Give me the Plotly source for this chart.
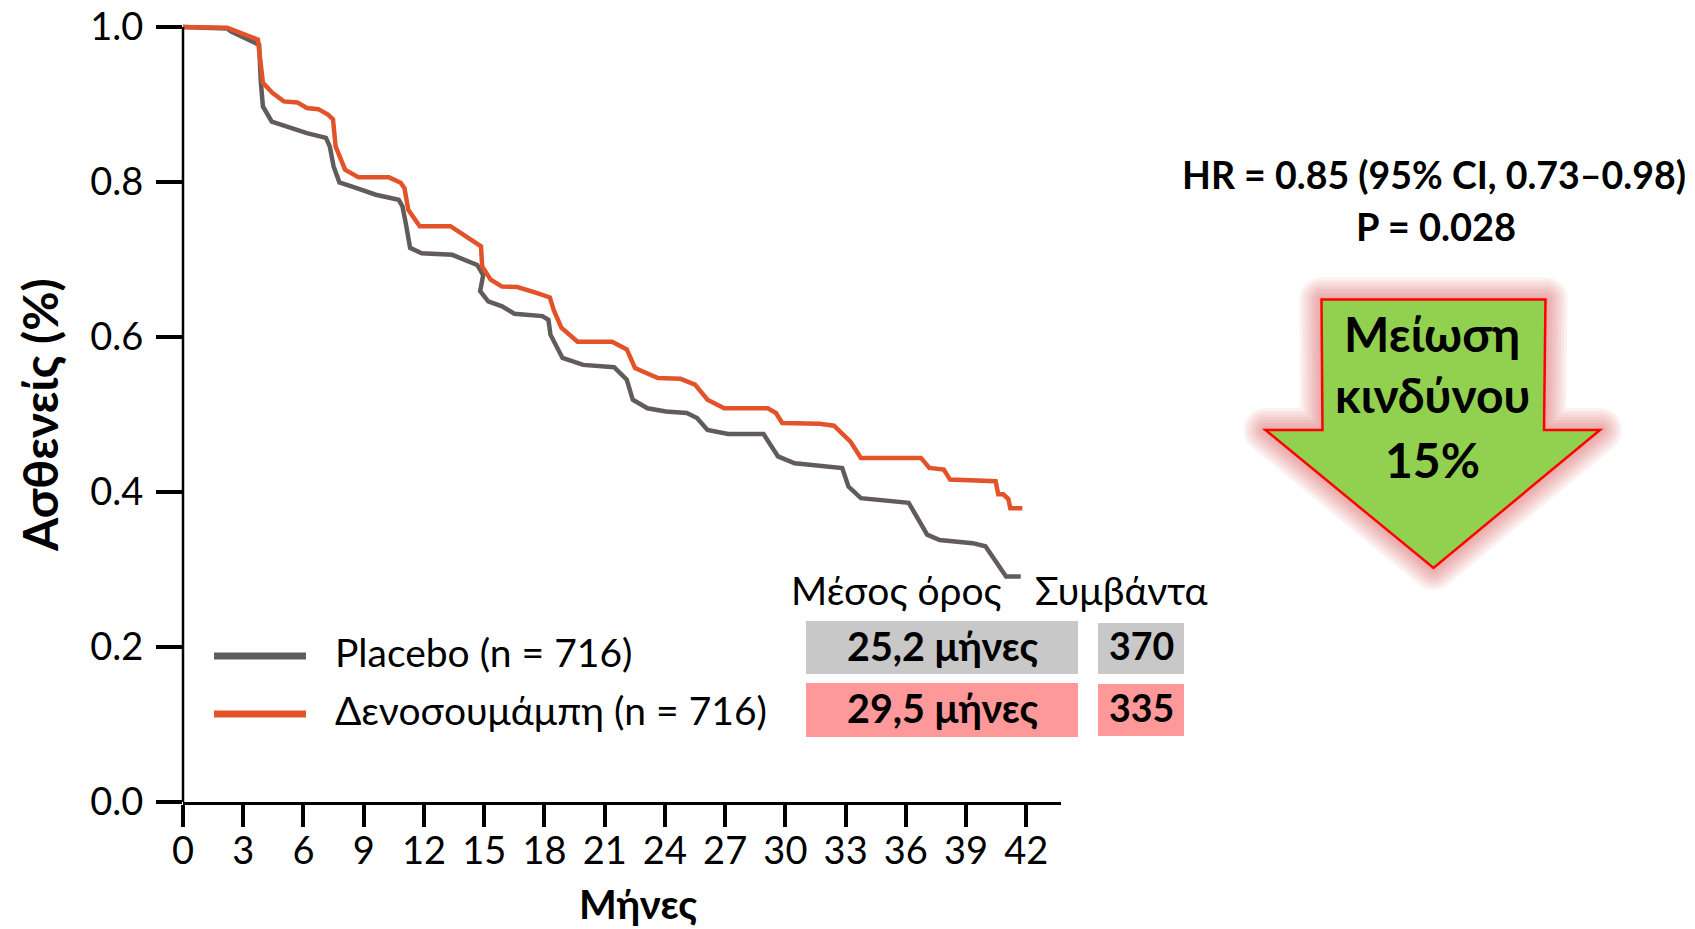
import math
import plotly.graph_objects as go

# ---------------- data ----------------
placebo_months = [0, 2.2, 2.4, 3.5, 3.79, 3.88, 3.98, 4.42, 5.41, 6.17, 7.12, 7.31, 7.5, 7.79,
                  8.65, 9.6, 10.74, 10.93, 11.12, 11.31, 11.89, 13.41, 14.65, 14.95, 14.8,
                  15.2, 15.89, 16.5, 17.9, 18.2, 18.3, 18.9, 19.93, 21.47, 22.1, 22.4, 23.13,
                  24.05, 25.09, 25.6, 26.12, 27.15, 28.91, 29.63, 30.46, 32.83, 33.14, 33.76,
                  36.14, 37.06, 37.68, 39.33, 39.96, 40.99, 41.72]
placebo_surv = [1.0, 0.998, 0.994, 0.981, 0.977, 0.928, 0.8975, 0.878, 0.870, 0.863, 0.857,
                0.846, 0.820, 0.7995, 0.792, 0.7836, 0.777, 0.7685, 0.743, 0.715, 0.708, 0.706,
                0.693, 0.680, 0.659, 0.646, 0.6395, 0.630, 0.627, 0.622, 0.603, 0.573, 0.564,
                0.561, 0.545, 0.519, 0.508, 0.504, 0.502, 0.4955, 0.480, 0.475, 0.475, 0.446,
                0.437, 0.431, 0.407, 0.392, 0.386, 0.345, 0.338, 0.334, 0.330, 0.291, 0.291]

deno_months = [0, 2.2, 3.5, 3.73, 3.98, 4.45, 5.02, 5.69, 6.17, 6.74, 7.22, 7.47, 7.6, 8.07,
               8.74, 10.26, 10.84, 11.03, 11.22, 11.79, 13.32, 14.65, 14.84, 14.9, 15.32, 15.89,
               16.65, 17.6, 18.27, 18.46, 18.84, 19.65, 21.37, 22.1, 22.51, 23.65, 24.78, 25.5,
               26.12, 26.95, 29.12, 29.53, 29.84, 31.69, 32.42, 33.24, 33.76, 36.75, 37.17,
               37.89, 38.2, 40.47, 40.6, 40.85, 41.1, 41.2, 41.8]
deno_surv = [1.0, 0.999, 0.986, 0.9836, 0.928, 0.915, 0.904, 0.9027, 0.8955, 0.894, 0.887,
             0.881, 0.846, 0.816, 0.806, 0.806, 0.799, 0.792, 0.764, 0.743, 0.743, 0.721, 0.717,
             0.691, 0.674, 0.665, 0.6645, 0.657, 0.651, 0.635, 0.612, 0.594, 0.594, 0.584, 0.560,
             0.547, 0.546, 0.5385, 0.519, 0.508, 0.508, 0.502, 0.489, 0.488, 0.4855, 0.465,
             0.444, 0.444, 0.431, 0.429, 0.416, 0.414, 0.397, 0.397, 0.391, 0.379, 0.379]

series_names = ["Placebo (n = 716)", "Δενοσουμάμπη (n = 716)"]
median_labels = ["25,2 μήνες", "29,5 μήνες"]
event_labels = ["370", "335"]
x_ticks = list(range(0, 43, 3))
y_ticks = [0.0, 0.2, 0.4, 0.6, 0.8, 1.0]

# ---------------- styling ----------------
GRAY = "#615B5B"
ORANGE = "#E2532A"
FONT = "Lato"
W, H = 1695, 929
# plot area in page pixels: left 183, right 1061, top 21, bottom 802
L = 183
R = W - 1061
T = 21
B = H - 802
PLOT_W = W - L - R
PLOT_H = H - T - B


def px(x):
    return (x - L) / PLOT_W


def py(y):
    return (H - B - y) / PLOT_H


fig = go.Figure()
fig.add_trace(go.Scatter(x=placebo_months, y=placebo_surv, mode="lines",
                         line=dict(color=GRAY, width=4.5), name=series_names[0],
                         showlegend=False))
fig.add_trace(go.Scatter(x=deno_months, y=deno_surv, mode="lines",
                         line=dict(color=ORANGE, width=4.5), name=series_names[1],
                         showlegend=False))

shapes = []
# y axis line (from 0 to 1.0)
shapes.append(dict(type="line", xref="paper", yref="y", x0=0, x1=0, y0=0, y1=1.0,
                   line=dict(color="black", width=2.5), layer="above"))

# legend samples
for yy, col in [(656, GRAY), (714, ORANGE)]:
    shapes.append(dict(type="line", xref="paper", yref="paper", x0=px(214), x1=px(306),
                       y0=py(yy), y1=py(yy), line=dict(color=col, width=7)))

# table boxes
for (x0, x1, y0, y1, col) in [(806, 1078, 621, 674, "#C8C8C8"), (806, 1078, 683, 737, "#FF9999"),
                              (1098, 1184, 623, 674, "#C8C8C8"), (1098, 1184, 684, 736, "#FF9999")]:
    shapes.append(dict(type="rect", xref="paper", yref="paper", x0=px(x0), x1=px(x1),
                       y0=py(y0), y1=py(y1), fillcolor=col, line=dict(width=0), layer="below"))

# arrow (page pixel outline), with a soft red glow made from rounded offset outlines
arrow_pts = [(1321.5, 299.5), (1545.5, 299.5), (1544, 430), (1600, 430), (1433.5, 568),
             (1265.5, 430), (1322.5, 430)]


def offset_outline(pts, d):
    n = len(pts)
    out = []
    for i in range(n):
        p0, p1, p2 = pts[i - 1], pts[i], pts[(i + 1) % n]
        e1 = (p1[0] - p0[0], p1[1] - p0[1])
        e2 = (p2[0] - p1[0], p2[1] - p1[1])
        l1, l2 = math.hypot(*e1), math.hypot(*e2)
        n1 = (e1[1] / l1, -e1[0] / l1)
        n2 = (e2[1] / l2, -e2[0] / l2)
        cross = e1[0] * e2[1] - e1[1] * e2[0]
        if cross > 0:  # convex corner: round it
            a1, a2 = math.atan2(n1[1], n1[0]), math.atan2(n2[1], n2[0])
            da = (a2 - a1 + math.pi) % (2 * math.pi) - math.pi
            for k in range(9):
                a = a1 + da * k / 8
                out.append((p1[0] + d * math.cos(a), p1[1] + d * math.sin(a)))
        else:  # concave corner: miter point
            dot = n1[0] * n2[0] + n1[1] * n2[1]
            out.append((p1[0] + d * (n1[0] + n2[0]) / (1 + dot),
                        p1[1] + d * (n1[1] + n2[1]) / (1 + dot)))
    return out


def to_path(pts):
    return "M " + " L ".join(f"{px(x):.5f},{py(y):.5f}" for x, y in pts) + " Z"


for d in [22, 19, 16, 13, 10, 7, 4]:
    shapes.append(dict(type="path", xref="paper", yref="paper",
                       path=to_path(offset_outline(arrow_pts, d)),
                       line=dict(width=0), fillcolor="rgba(215,70,70,0.075)"))
shapes.append(dict(type="path", xref="paper", yref="paper", path=to_path(arrow_pts),
                   line=dict(color="#FF0000", width=2.5), fillcolor="#92D050"))

ann = []


def add_text(text, x, y, size, bold=False, xanchor="center", angle=0):
    ann.append(dict(text=f"<b>{text}</b>" if bold else text, x=px(x), y=py(y),
                    xref="paper", yref="paper", xanchor=xanchor, yanchor="middle",
                    showarrow=False, textangle=angle,
                    font=dict(family=FONT, size=size, color="black")))


add_text("Ασθενείς (%)", 40, 415, 48, bold=True, angle=-90)
add_text("Μήνες", 638, 904, 40, bold=True)
add_text(series_names[0], 333, 652, 39, xanchor="left")
add_text(series_names[1], 333, 710, 39, xanchor="left")
add_text("Μέσος όρος", 896, 590, 39)
add_text("Συμβάντα", 1121, 590, 39)
add_text(median_labels[0], 942, 645, 39.5, bold=True)
add_text(median_labels[1], 942, 707, 39.5, bold=True)
add_text(event_labels[0], 1141, 645, 37.5, bold=True)
add_text(event_labels[1], 1141, 707, 37.5, bold=True)
add_text("HR = 0.85 (95% CI, 0.73–0.98)", 1434, 175, 37.5, bold=True)
add_text("P = 0.028", 1436, 226, 38, bold=True)
add_text("Μείωση", 1432, 333, 48, bold=True)
add_text("κινδύνου", 1432, 394, 48, bold=True)
add_text("15%", 1432, 459, 48, bold=True)

fig.update_layout(
    width=W, height=H, margin=dict(l=L, r=R, t=T, b=B, autoexpand=False),
    plot_bgcolor="white", paper_bgcolor="white",
    shapes=shapes, annotations=ann, showlegend=False,
    xaxis=dict(range=[0, PLOT_W / 20.08], tickvals=x_ticks, ticks="outside", ticklen=22,
               tickwidth=3.5, tickcolor="black", showline=True, linecolor="black", linewidth=2.5,
               showgrid=False, zeroline=False, automargin=False, ticklabelstandoff=-8,
               ticklabeloverflow="allow",
               tickfont=dict(family=FONT, size=38, color="black")),
    yaxis=dict(range=[0, PLOT_H / 775.0], tickvals=y_ticks, tickformat=".1f",
               ticks="outside", ticklen=26, tickwidth=3.5, tickcolor="black", showline=False,
               showgrid=False, zeroline=False, ticklabelstandoff=5, automargin=False,
               ticklabeloverflow="allow",
               tickfont=dict(family=FONT, size=38, color="black")),
)

# remove the browser's default 8px page margin so the figure fills the window exactly
fig.write_html("out.html", config={"displayModeBar": False},
               post_script="document.body.style.margin='0px';document.body.style.overflow='hidden';")
